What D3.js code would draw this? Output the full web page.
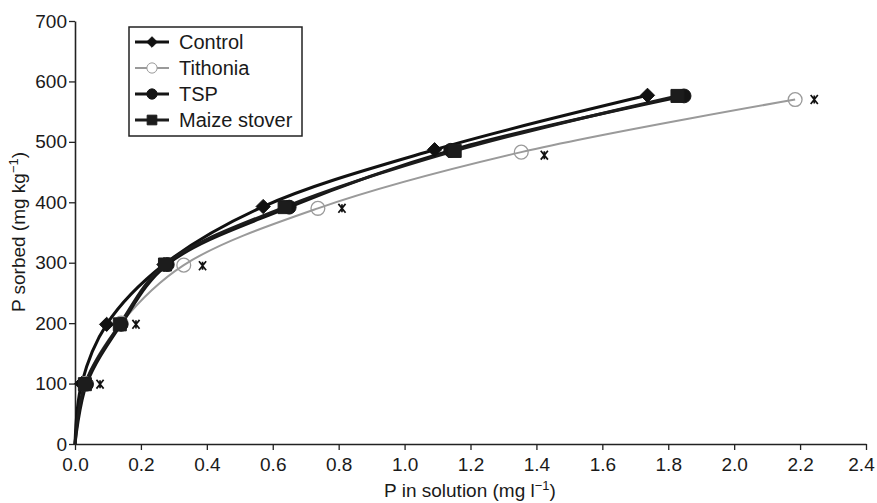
<!DOCTYPE html>
<html>
<head>
<meta charset="utf-8">
<script src="https://cdn.jsdelivr.net/npm/d3@7"></script>
<style>
  html, body { margin: 0; padding: 0; background: #fff; }
  text { font-family: "Liberation Sans", Arial, sans-serif; fill: #1a1a1a; }
</style>
</head>
<body>
<svg id="chart" width="877" height="503"></svg>
<script>
// ---- data ----
const xTicks = [0.0, 0.2, 0.4, 0.6, 0.8, 1.0, 1.2, 1.4, 1.6, 1.8, 2.0, 2.2, 2.4];
const yTicks = [0, 100, 200, 300, 400, 500, 600, 700];

const controlX = [0.02, 0.096, 0.27, 0.571, 1.091, 1.737];
const controlY = [100, 198, 297, 393, 487, 577];

const tithoniaX = [0.03, 0.14, 0.33, 0.737, 1.354, 2.185];
const tithoniaY = [100, 200, 296, 390, 483, 570];

const tspX = [0.035, 0.14, 0.28, 0.65, 1.14, 1.848];
const tspY = [99, 198, 297, 392, 486, 576];

const maizeX = [0.03, 0.136, 0.273, 0.636, 1.152, 1.828];
const maizeY = [99, 198, 297, 392, 485, 576];

const extraX = [0.076, 0.185, 0.387, 0.81, 1.424, 2.243];
const extraY = [99, 198, 295, 390, 478, 570];

const seriesNames = ["Control", "Tithonia", "TSP", "Maize stover"];

// ---- layout ----
const svg = d3.select("#chart");
const x = d3.scaleLinear().domain([0, 2.4]).range([75, 866]);
const y = d3.scaleLinear().domain([0, 700]).range([444, 21]);

const zip = (xs, ys) => xs.map((v, i) => [v, ys[i]]);
const diamond = { draw(ctx, size) { const r = Math.sqrt(size) / 2 * 1.25; ctx.moveTo(0, -r); ctx.lineTo(r, 0); ctx.lineTo(0, r); ctx.lineTo(-r, 0); ctx.closePath(); } };
const star = { draw(ctx, size) { const r = Math.sqrt(size) / 2; ctx.moveTo(-r * 0.8, -r); ctx.lineTo(r * 0.8, r); ctx.moveTo(-r * 0.8, r); ctx.lineTo(r * 0.8, -r); ctx.moveTo(0, -r * 0.9); ctx.lineTo(0, r * 0.9); } };
const series = [
  { name: seriesNames[0], pts: zip(controlX, controlY), color: "#111", width: 3, sym: diamond, size: 130, fill: "#111" },
  { name: seriesNames[1], pts: zip(tithoniaX, tithoniaY), color: "#9a9a9a", width: 2, sym: d3.symbolCircle, size: 150, fill: "none" },
  { name: seriesNames[2], pts: zip(tspX, tspY), color: "#151515", width: 3, sym: d3.symbolCircle, size: 150, fill: "#151515" },
  { name: seriesNames[3], pts: zip(maizeX, maizeY), color: "#1c1c1c", width: 3, sym: d3.symbolSquare, size: 170, fill: "#1c1c1c" }
];

// axes
const xAxis = d3.axisBottom(x).tickValues(xTicks).tickFormat(d3.format(".1f")).tickSize(6).tickSizeOuter(0);
const yAxis = d3.axisLeft(y).tickValues(yTicks).tickFormat(d3.format("d")).tickSize(6).tickSizeOuter(0);

const gx = svg.append("g").attr("transform", `translate(0,${y(0)})`).call(xAxis);
const gy = svg.append("g").attr("transform", `translate(${x(0)},0)`).call(yAxis);
[gx, gy].forEach(g => {
  g.select(".domain").attr("stroke", "#222").attr("stroke-width", 1.6);
  g.selectAll(".tick line").attr("stroke", "#222").attr("stroke-width", 1.3);
  g.selectAll("text").attr("font-size", 19).attr("fill", "#1a1a1a")
    .style("font-family", '"Liberation Sans", Arial, sans-serif');
});
gx.selectAll("text").attr("dy", "0.95em");
gx.selectAll(".tick").filter(d => d === 2.4).select("text").attr("x", -5);
gy.selectAll("text").attr("x", -8);

// axis titles
svg.append("text").attr("x", 470).attr("y", 497).attr("text-anchor", "middle")
  .attr("font-size", 19)
  .html('P in solution (mg l<tspan dy="-7" font-size="13">\u22121</tspan><tspan dy="7">)</tspan>');
svg.append("text").attr("transform", "translate(25,232) rotate(-90)").attr("text-anchor", "middle")
  .attr("font-size", 19)
  .html('P sorbed (mg kg<tspan dy="-7" font-size="13">\u22121</tspan><tspan dy="7">)</tspan>');

// curves
const line = d3.line().x(d => x(d[0])).y(d => y(d[1])).curve(d3.curveCatmullRom.alpha(0.5));
const drawOrder = [series[1], series[0], series[2], series[3]];
drawOrder.forEach(s => {
  svg.append("path").datum([[0, 0]].concat(s.pts))
    .attr("d", line).attr("fill", "none")
    .attr("stroke", s.color).attr("stroke-width", s.width);
});

// markers
drawOrder.forEach(s => {
  svg.append("g").selectAll("path").data(s.pts).join("path")
    .attr("transform", d => `translate(${x(d[0])},${y(d[1])})`)
    .attr("d", d3.symbol().type(s.sym).size(s.size))
    .attr("fill", s.fill === "none" ? "#fff" : s.fill)
    .attr("fill-opacity", s.fill === "none" ? 0 : 1)
    .attr("stroke", s.color).attr("stroke-width", s.fill === "none" ? 1.3 : 1);
});

// unlabeled asterisk markers
svg.append("g").selectAll("path").data(zip(extraX, extraY)).join("path")
  .attr("transform", d => `translate(${x(d[0])},${y(d[1])})`)
  .attr("d", d3.symbol().type(star).size(80))
  .attr("fill", "none").attr("stroke", "#111").attr("stroke-width", 1.7);

// legend
const lg = svg.append("g");
lg.append("rect").attr("x", 129).attr("y", 27).attr("width", 173).attr("height", 109)
  .attr("fill", "#fff").attr("stroke", "#222").attr("stroke-width", 1.5);
series.forEach((s, i) => {
  const cy = 42 + i * 26;
  lg.append("line").attr("x1", 135).attr("x2", 169).attr("y1", cy).attr("y2", cy)
    .attr("stroke", s.color).attr("stroke-width", s.width);
  lg.append("path").attr("transform", `translate(152,${cy})`)
    .attr("d", d3.symbol().type(s.sym).size(s.size * 0.55))
    .attr("fill", s.fill === "none" ? "#fff" : s.fill)
    .attr("stroke", s.color).attr("stroke-width", 1);
  lg.append("text").attr("x", 179).attr("y", cy).attr("dy", "0.36em")
    .attr("font-size", 20).text(s.name);
});
</script>
</body>
</html>
